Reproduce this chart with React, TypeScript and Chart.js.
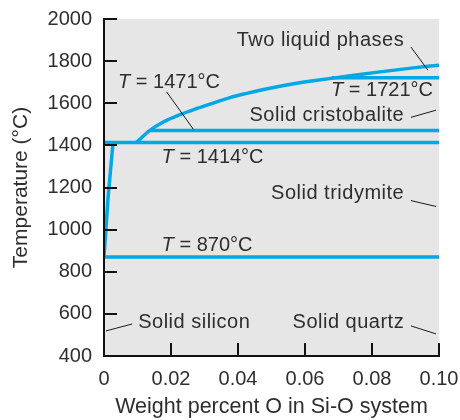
import React, { useEffect, useRef } from "react";
import { Chart, registerables } from "chart.js";

Chart.register(...registerables);

// ---- data ----
const X_MIN = 0;
const X_MAX = 0.1;
const Y_MIN = 400;
const Y_MAX = 2000;
const xTickValues = [0, 0.02, 0.04, 0.06, 0.08, 0.1];
const xTickLabels = ["0", "0.02", "0.04", "0.06", "0.08", "0.10"];
const yTickValues = [400, 600, 800, 1000, 1200, 1400, 1600, 1800, 2000];

const solidusX = [0, 0.0012, 0.0027];
const solidusT = [870, 1150, 1414];

const liquidusX = [0.0097, 0.0137, 0.0177, 0.0227, 0.0277, 0.0326, 0.0376, 0.0426, 0.0476, 0.0525, 0.0575, 0.0625, 0.0724, 0.0824, 0.0923, 0.1];
const liquidusT = [1414, 1471, 1511, 1546, 1575, 1601, 1627, 1647, 1665, 1681, 1695, 1707, 1728, 1749, 1768, 1781];

const isothermT = [870, 1414, 1471, 1721];
const isothermStartX = [0, 0, 0.0137, 0.068];
const isothermEndX = [0.1, 0.1, 0.1, 0.1];

const labelTexts = ["Two liquid phases", "1471°C", "1721°C", "Solid cristobalite", "1414°C", "Solid tridymite", "870°C", "Solid silicon", "Solid quartz"];
const labelIsTemp = [false, true, true, false, true, false, true, false, false];
const labelX = [0.0896, 0.0042, 0.0982, 0.0896, 0.0172, 0.0896, 0.0172, 0.0102, 0.0896];
const labelT = [1900, 1700, 1659, 1543, 1344, 1170, 927, 559, 559];
const labelAlign = ["right", "left", "right", "right", "left", "right", "left", "left", "right"];

const leaderX1 = [0.0916, 0.0187, 0.0916, 0.0916, 0.0006, 0.0916];
const leaderT1 = [1867, 1654, 1533, 1138, 519, 543];
const leaderX2 = [0.0967, 0.0267, 0.0991, 0.0991, 0.0084, 0.0991];
const leaderT2 = [1757, 1476, 1567, 1110, 552, 505];

// ---- style ----
const BLUE = "#00a8e6";
const TEXT = "#2e2e2e";
const FONT = "'Liberation Sans', Arial, Helvetica, sans-serif";

const pts = (xs: number[], ys: number[]) => xs.map((x, i) => ({ x, y: ys[i] }));

const decor = {
  id: "decor",
  beforeDraw(chart: any) {
    const { ctx, chartArea: a } = chart;
    ctx.save();
    ctx.fillStyle = "#e6e6e6";
    ctx.fillRect(a.left, a.top, a.right - a.left, a.bottom - a.top);
    ctx.restore();
  },
  afterDatasetsDraw(chart: any) {
    const { ctx, chartArea: a, scales } = chart;
    const xs = scales.x;
    const ys = scales.y;
    ctx.save();
    ctx.strokeStyle = "#111";
    ctx.lineWidth = 2;
    for (const v of yTickValues) {
      if (v === Y_MIN) continue;
      const py = Math.round(ys.getPixelForValue(v));
      ctx.beginPath();
      ctx.moveTo(a.left, py);
      ctx.lineTo(a.left + 13, py);
      ctx.stroke();
    }
    for (const v of xTickValues) {
      if (v === X_MIN) continue;
      const px = Math.round(xs.getPixelForValue(v));
      ctx.beginPath();
      ctx.moveTo(px, a.bottom);
      ctx.lineTo(px, a.bottom - 13);
      ctx.stroke();
    }
    ctx.beginPath();
    ctx.moveTo(a.left, a.top - 1);
    ctx.lineTo(a.left, a.bottom);
    ctx.lineTo(a.right + 1, a.bottom);
    ctx.stroke();

    // leader lines
    ctx.lineWidth = 1;
    ctx.strokeStyle = "#1a1a1a";
    for (let i = 0; i < leaderX1.length; i++) {
      ctx.beginPath();
      ctx.moveTo(xs.getPixelForValue(leaderX1[i]), ys.getPixelForValue(leaderT1[i]));
      ctx.lineTo(xs.getPixelForValue(leaderX2[i]), ys.getPixelForValue(leaderT2[i]));
      ctx.stroke();
    }

    // labels
    ctx.fillStyle = TEXT;
    ctx.textBaseline = "middle";
    ctx.textAlign = "left";
    const normal = `20px ${FONT}`;
    const italic = `italic 20px ${FONT}`;
    for (let i = 0; i < labelTexts.length; i++) {
      const px = xs.getPixelForValue(labelX[i]);
      const py = ys.getPixelForValue(labelT[i]);
      if (labelIsTemp[i]) {
        (ctx as any).letterSpacing = "0px";
        ctx.font = italic;
        const wT = ctx.measureText("T").width;
        ctx.font = normal;
        const rest = " = " + labelTexts[i];
        const wR = ctx.measureText(rest).width;
        const x0 = labelAlign[i] === "right" ? px - wT - wR : px;
        ctx.font = italic;
        ctx.fillText("T", x0, py);
        ctx.font = normal;
        ctx.fillText(rest, x0 + wT, py);
      } else {
        (ctx as any).letterSpacing = "0.5px";
        ctx.font = normal;
        const w = ctx.measureText(labelTexts[i]).width;
        const x0 = labelAlign[i] === "right" ? px - w : px;
        ctx.fillText(labelTexts[i], x0, py);
      }
    }
    (ctx as any).letterSpacing = "0px";
    ctx.restore();
  },
};

export default function App() {
  const ref = useRef<HTMLCanvasElement>(null);
  useEffect(() => {
    if (!ref.current) return;
    const lineDs = (data: any[], extra: any = {}) => ({
      data,
      showLine: true,
      borderColor: BLUE,
      backgroundColor: BLUE,
      borderWidth: 3.5,
      pointRadius: 0,
      pointHoverRadius: 0,
      fill: false,
      ...extra,
    });
    const datasets: any[] = [
      lineDs(pts(solidusX, solidusT)),
      lineDs(pts(liquidusX, liquidusT), { cubicInterpolationMode: "monotone" }),
      ...isothermT.map((t, i) => lineDs([{ x: isothermStartX[i], y: t }, { x: isothermEndX[i], y: t }])),
    ];
    const chart = new Chart(ref.current, {
      type: "scatter",
      data: { datasets },
      plugins: [decor],
      options: {
        responsive: false,
        animation: false,
        devicePixelRatio: 1,
        layout: { padding: { top: 19, right: 21, left: 0, bottom: 0 } },
        plugins: { legend: { display: false }, tooltip: { enabled: false } },
        font: { family: FONT },
        scales: {
          x: {
            type: "linear",
            min: X_MIN,
            max: X_MAX,
            afterBuildTicks: (s: any) => {
              s.ticks = xTickValues.map((v) => ({ value: v }));
            },
            afterFit: (s: any) => {
              s.height = 64;
              s.paddingLeft = 0;
              s.paddingRight = 0;
              s.paddingTop = 0;
              s.paddingBottom = 0;
            },
            grid: { display: false, drawTicks: false },
            border: { display: false },
            ticks: {
              padding: 11,
              color: TEXT,
              font: { family: FONT, size: 20 },
              maxRotation: 0,
              autoSkip: false,
              callback: (_v: any, i: number) => xTickLabels[i],
            },
            title: {
              display: true,
              text: "Weight percent O in Si-O system",
              color: TEXT,
              font: { family: FONT, size: 21.5 },
              padding: { top: 0, bottom: 0 },
            },
          },
          y: {
            type: "linear",
            min: Y_MIN,
            max: Y_MAX,
            afterBuildTicks: (s: any) => {
              s.ticks = yTickValues.map((v) => ({ value: v }));
            },
            afterFit: (s: any) => {
              s.width = 104;
              s.paddingLeft = 0;
              s.paddingRight = 0;
              s.paddingTop = 0;
              s.paddingBottom = 0;
            },
            grid: { display: false, drawTicks: false },
            border: { display: false },
            ticks: {
              padding: 12,
              color: TEXT,
              font: { family: FONT, size: 20 },
              autoSkip: false,
              callback: (v: any) => String(v),
            },
            title: {
              display: true,
              text: "Temperature (°C)",
              color: TEXT,
              font: { family: FONT, size: 21 },
              padding: { top: 9, bottom: 0 },
            },
          },
        },
      } as any,
    });
    return () => chart.destroy();
  }, []);
  return (
    <div style={{ position: "fixed", left: 0, top: 0, width: 460, height: 420, background: "#fff" }}>
      <canvas ref={ref} width={460} height={420} style={{ display: "block", width: 460, height: 420 }} />
    </div>
  );
}
